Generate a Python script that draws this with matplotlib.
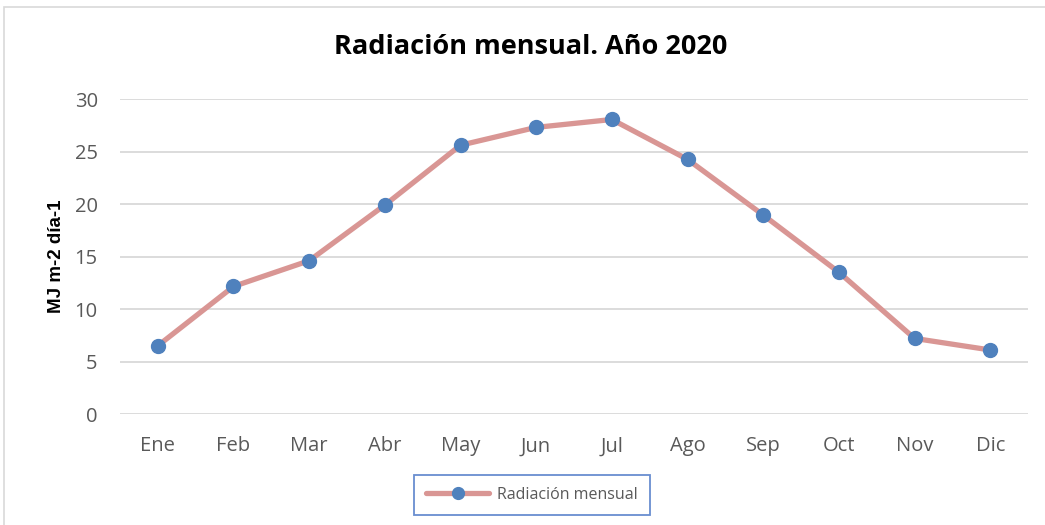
import matplotlib
matplotlib.use("Agg")
import matplotlib.pyplot as plt
from matplotlib.patches import Rectangle

months = ["Ene", "Feb", "Mar", "Abr", "May", "Jun", "Jul", "Ago", "Sep", "Oct", "Nov", "Dic"]
radiacion = [6.5, 12.15, 14.6, 19.9, 25.6, 27.3, 28.05, 24.25, 18.95, 13.5, 7.2, 6.1]
yticks = [0, 5, 10, 15, 20, 25, 30]

plt.rcParams['font.family'] = ['Open Sans', 'DejaVu Sans']

fig = plt.figure(figsize=(10.45, 5.25), dpi=100)
ax = fig.add_axes([0.1148, 0.2114, 0.869, 0.600])

x = list(range(len(months)))
ax.plot(x, radiacion, color="#D99694", linewidth=3.8, marker="o", markersize=10,
        markerfacecolor="#4F81BD", markeredgecolor="#4F81BD", label="Radiación mensual",
        solid_capstyle="round", zorder=3)

ax.set_xlim(-0.5, 11.5)
ax.set_ylim(0, 30)
ax.set_yticks(yticks)
ax.set_xticks(x)
ax.set_xticklabels(months)
ax.yaxis.grid(True, color="#D9D9D9", linewidth=1.3)
ax.set_axisbelow(True)
for s in ax.spines.values():
    s.set_visible(False)
ax.tick_params(axis="both", length=0, colors="#595959", labelsize=14.5)
ax.tick_params(axis="x", pad=16)
ax.tick_params(axis="y", pad=16)
ax.set_ylabel("MJ m-2 día-1", fontsize=13.5, fontweight="bold", color="black", labelpad=7,
              family=["Liberation Sans", "DejaVu Sans"])

fig.text(0.508, 0.91, "Radiación mensual. Año 2020", ha="center", va="center",
         fontsize=19.5, fontweight="bold", color="black")

leg = ax.legend(loc="center", bbox_to_anchor=(0.4536, -0.257), frameon=True, fancybox=False,
                fontsize=11.5, handlelength=4.0, borderpad=0.75, borderaxespad=0,
                handletextpad=0.5, markerscale=0.85, labelcolor="#595959")
leg.get_frame().set_edgecolor("#4472C4")
leg.get_frame().set_linewidth(1.3)
leg._legend_box.sep = 0
leg.get_frame().set_boxstyle("square", pad=0)

fig.patches.append(Rectangle((0.004, -0.05), 1.1, 1.037, transform=fig.transFigure,
                             fill=False, edgecolor="#D9D9D9", linewidth=1.2))

fig.savefig("out.png", dpi=100)
